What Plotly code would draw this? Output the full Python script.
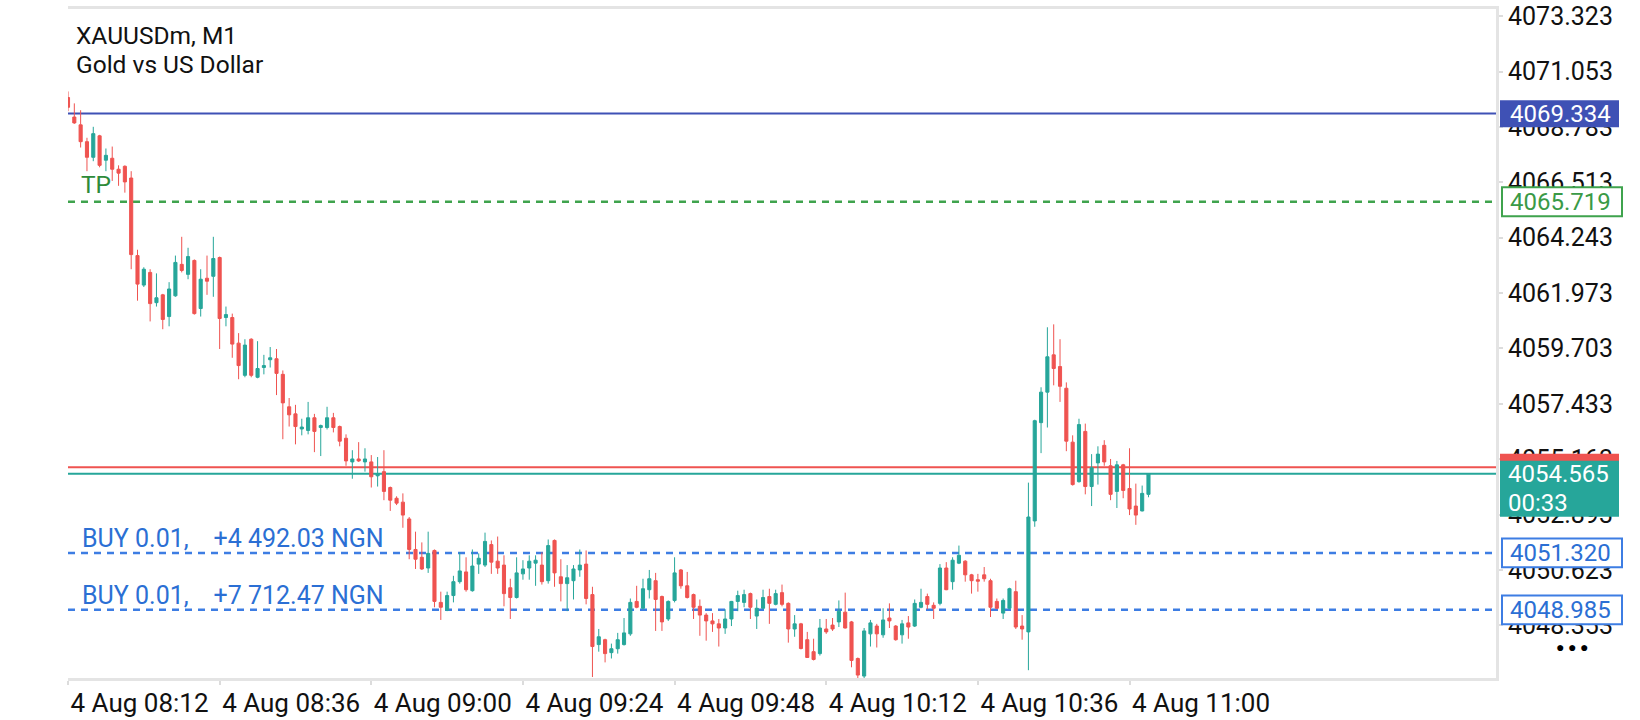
import pandas as pd
import plotly.graph_objects as go

# XAUUSDm M1 - candles desde 4 Aug 08:12
inicio = "2025-08-04 08:12"

abertura = [
    4069.99, 4069.19, 4068.87, 4068.18, 4067.54, 4068.42, 4067.42, 4067.50, 4067.05, 4067.17,
    4066.69, 4063.51, 4062.30, 4062.82, 4061.58, 4061.90, 4061.01, 4061.86, 4063.15, 4062.74,
    4063.31, 4061.34, 4062.58, 4062.66, 4063.43, 4060.97, 4060.97, 4059.92, 4058.60, 4060.08,
    4058.52, 4058.92, 4059.24, 4059.28, 4058.64, 4057.31, 4057.02, 4056.40, 4056.34, 4056.86,
    4056.46, 4056.46, 4056.86, 4056.50, 4056.02, 4055.05, 4055.17, 4055.05, 4055.05, 4054.48,
    4054.65, 4054.00, 4053.56, 4053.40, 4052.71, 4051.46, 4051.14, 4050.70, 4051.42, 4049.29,
    4048.97, 4049.57, 4050.14, 4050.54, 4049.77, 4050.86, 4050.82, 4051.66, 4050.98, 4050.82,
    4049.89, 4049.49, 4050.46, 4050.70, 4050.90, 4050.82, 4050.18, 4051.83, 4050.34, 4050.06,
    4050.18, 4050.62, 4050.86, 4049.61, 4047.56, 4047.76, 4047.23, 4047.39, 4047.56, 4048.00,
    4049.33, 4049.05, 4049.81, 4050.18, 4049.53, 4048.61, 4049.37, 4050.62, 4049.97, 4049.61,
    4049.13, 4048.77, 4048.53, 4048.41, 4048.24, 4048.61, 4049.33, 4049.29, 4049.65, 4048.73,
    4049.05, 4049.53, 4049.21, 4049.69, 4049.25, 4048.20, 4048.41, 4047.76, 4047.27, 4047.19,
    4048.20, 4048.36, 4048.49, 4048.89, 4048.49, 4046.99, 4046.27, 4048.00, 4048.32, 4047.96,
    4048.65, 4048.32, 4047.96, 4048.45, 4048.32, 4049.09, 4049.53, 4049.17, 4049.25, 4050.70,
    4050.14, 4050.90, 4050.98, 4050.42, 4050.22, 4050.42, 4050.18, 4049.33, 4048.85, 4049.05,
    4049.73, 4048.32, 4048.08, 4052.63, 4056.66, 4057.91, 4059.44, 4058.96, 4058.07, 4055.86,
    4054.24, 4056.30, 4054.04, 4055.01, 4055.73, 4054.89, 4053.84, 4054.93, 4053.96, 4053.24,
    4053.04, 4053.72,
]
maxima = [
    4070.24, 4069.75, 4069.47, 4068.34, 4068.79, 4068.46, 4067.90, 4067.98, 4067.21, 4067.21,
    4066.97, 4063.75, 4063.03, 4062.95, 4062.78, 4061.94, 4062.42, 4063.51, 4064.28, 4063.83,
    4063.35, 4062.95, 4063.51, 4064.28, 4063.47, 4061.42, 4061.13, 4060.33, 4060.08, 4060.12,
    4060.00, 4059.44, 4059.76, 4059.68, 4058.80, 4057.67, 4057.39, 4056.82, 4057.51, 4057.02,
    4056.58, 4057.31, 4057.06, 4056.54, 4056.18, 4055.53, 4055.86, 4055.61, 4055.33, 4055.25,
    4055.53, 4054.04, 4053.64, 4053.76, 4052.79, 4052.19, 4051.75, 4052.19, 4051.46, 4049.73,
    4049.73, 4050.38, 4051.34, 4051.14, 4051.46, 4051.30, 4052.15, 4051.83, 4051.99, 4051.22,
    4050.26, 4051.14, 4051.02, 4051.22, 4051.22, 4051.34, 4051.87, 4051.87, 4051.06, 4050.82,
    4050.82, 4051.46, 4051.42, 4049.93, 4048.20, 4047.80, 4047.60, 4048.04, 4048.65, 4049.45,
    4049.97, 4050.26, 4050.62, 4050.50, 4049.57, 4049.37, 4051.14, 4050.66, 4050.54, 4049.65,
    4049.41, 4048.85, 4048.85, 4048.61, 4049.01, 4049.35, 4049.77, 4049.81, 4049.69, 4049.41,
    4049.81, 4049.85, 4049.81, 4050.02, 4049.29, 4048.77, 4048.45, 4048.08, 4047.80, 4048.61,
    4048.61, 4048.65, 4049.37, 4049.69, 4048.53, 4047.03, 4048.24, 4048.57, 4048.41, 4049.05,
    4049.25, 4048.36, 4048.57, 4048.73, 4049.41, 4049.85, 4049.65, 4049.29, 4050.86, 4050.94,
    4051.14, 4051.62, 4051.02, 4050.46, 4050.46, 4050.74, 4050.26, 4049.45, 4049.45, 4049.89,
    4050.18, 4048.77, 4054.20, 4056.78, 4058.11, 4060.57, 4060.69, 4060.08, 4058.31, 4056.14,
    4056.82, 4056.62, 4055.37, 4055.69, 4055.94, 4055.17, 4055.09, 4054.97, 4055.61, 4054.16,
    4054.08, 4054.565,
]
minima = [
    4069.43, 4068.91, 4067.94, 4066.97, 4067.38, 4067.13, 4066.97, 4066.57, 4066.37, 4066.09,
    4062.95, 4061.66, 4062.22, 4060.81, 4061.42, 4060.49, 4060.61, 4061.82, 4062.82, 4062.54,
    4061.09, 4061.01, 4061.90, 4061.82, 4059.68, 4060.61, 4059.32, 4058.44, 4058.52, 4058.52,
    4058.48, 4058.64, 4058.92, 4057.79, 4055.98, 4056.50, 4055.77, 4056.14, 4056.18, 4055.45,
    4055.29, 4056.38, 4056.26, 4055.69, 4054.89, 4054.36, 4055.05, 4054.65, 4054.00, 4054.04,
    4053.48, 4053.04, 4053.28, 4052.35, 4051.06, 4050.66, 4050.62, 4050.50, 4049.09, 4048.57,
    4048.93, 4049.29, 4050.06, 4049.73, 4049.73, 4050.46, 4050.74, 4050.46, 4050.46, 4049.13,
    4048.61, 4049.45, 4050.22, 4050.22, 4049.97, 4050.02, 4050.06, 4049.93, 4049.33, 4048.93,
    4049.41, 4050.34, 4049.21, 4046.23, 4047.27, 4046.83, 4046.99, 4047.19, 4047.52, 4047.92,
    4049.05, 4049.01, 4049.45, 4048.12, 4048.12, 4048.53, 4049.29, 4049.85, 4049.45, 4048.61,
    4047.92, 4047.72, 4048.08, 4047.48, 4048.00, 4048.32, 4048.93, 4049.09, 4048.61, 4048.20,
    4049.01, 4048.41, 4049.17, 4049.13, 4047.64, 4047.88, 4047.36, 4047.01, 4046.91, 4047.11,
    4048.00, 4048.12, 4048.28, 4048.22, 4046.63, 4046.15, 4046.15, 4047.48, 4047.44, 4047.84,
    4048.24, 4047.72, 4047.60, 4047.80, 4048.28, 4049.05, 4049.01, 4048.61, 4049.17, 4049.79,
    4049.81, 4050.86, 4050.14, 4049.65, 4049.73, 4050.14, 4048.69, 4049.01, 4048.61, 4049.01,
    4048.20, 4047.76, 4046.51, 4052.39, 4055.41, 4056.46, 4058.19, 4057.51, 4055.49, 4054.08,
    4054.20, 4053.72, 4053.24, 4054.12, 4054.89, 4053.48, 4053.16, 4053.56, 4052.87, 4052.47,
    4053.02, 4053.60,
]
fechamento = [
    4069.59, 4068.95, 4068.18, 4067.54, 4068.51, 4067.21, 4067.62, 4067.05, 4066.89, 4066.53,
    4063.55, 4062.34, 4062.95, 4061.54, 4061.78, 4060.89, 4062.14, 4063.23, 4062.90, 4063.47,
    4061.13, 4062.54, 4062.46, 4063.39, 4060.93, 4061.09, 4059.88, 4059.00, 4059.84, 4058.60,
    4058.88, 4059.00, 4059.32, 4058.68, 4057.47, 4056.98, 4056.50, 4056.48, 4056.86, 4056.30,
    4056.54, 4056.86, 4056.46, 4055.90, 4055.09, 4055.17, 4055.09, 4055.17, 4054.44, 4054.56,
    4053.84, 4053.48, 4053.36, 4052.87, 4051.46, 4051.06, 4050.66, 4051.30, 4049.33, 4049.09,
    4049.57, 4050.14, 4050.58, 4049.81, 4050.78, 4051.10, 4051.79, 4050.94, 4050.70, 4049.65,
    4049.49, 4050.50, 4050.66, 4050.98, 4051.02, 4050.14, 4051.62, 4050.50, 4050.06, 4050.30,
    4050.66, 4050.82, 4049.45, 4047.48, 4047.88, 4047.19, 4047.39, 4047.76, 4048.04, 4049.29,
    4049.09, 4049.85, 4050.26, 4049.41, 4048.49, 4049.33, 4050.50, 4049.97, 4049.49, 4049.09,
    4048.77, 4048.53, 4048.41, 4048.24, 4048.61, 4049.33, 4049.57, 4049.61, 4049.09, 4049.05,
    4049.49, 4049.25, 4049.65, 4049.21, 4048.20, 4048.41, 4047.40, 4047.03, 4046.95, 4048.24,
    4048.08, 4048.20, 4048.93, 4048.24, 4046.91, 4046.31, 4048.12, 4048.45, 4048.00, 4048.57,
    4048.53, 4047.76, 4048.41, 4048.28, 4049.25, 4049.29, 4049.21, 4049.05, 4050.70, 4049.81,
    4051.02, 4051.22, 4050.42, 4050.18, 4050.16, 4050.26, 4049.09, 4049.05, 4049.37, 4049.85,
    4048.28, 4048.20, 4052.79, 4056.74, 4057.91, 4059.36, 4058.88, 4058.15, 4055.90, 4054.12,
    4056.58, 4054.04, 4054.81, 4055.37, 4055.05, 4053.72, 4054.93, 4053.88, 4053.12, 4052.87,
    4053.76, 4054.565,
]
tempos = pd.date_range(inicio, periods=len(abertura), freq="1min")

# niveis no grafico
nivel_azul = 4069.334
nivel_tp = 4065.719
preco_ask = 4054.833
preco_bid = 4054.565
contagem = "00:33"
ordens = [4051.320, 4048.985]
ordens_txt = ["BUY 0.01," + "\u00a0" * 4 + "+4 492.03 NGN",
              "BUY 0.01," + "\u00a0" * 4 + "+7 712.47 NGN"]
marcas_tempo = pd.date_range(inicio, "2025-08-04 11:00", freq="24min")

verde = "#26a69a"
vermelho = "#ef5350"
azul = "#3d7de3"
verde_tp = "#3fa34d"

fig = go.Figure(go.Candlestick(
    x=tempos, open=abertura, high=maxima, low=minima, close=fechamento,
    increasing=dict(line=dict(color=verde, width=1), fillcolor=verde),
    decreasing=dict(line=dict(color=vermelho, width=1), fillcolor=vermelho),
    whiskerwidth=0, hoverinfo="skip",
))


def linha(y, cor, largura, traco="solid"):
    fig.add_shape(type="line", xref="paper", x0=0, x1=1, yref="y", y0=y, y1=y,
                  line=dict(color=cor, width=largura, dash=traco), layer="below")


def caixa(y, fundo, borda, cima, baixo, x0=4, x1=123):
    fig.add_shape(type="rect", xref="paper", xsizemode="pixel", xanchor=1, x0=x0, x1=x1,
                  yref="y", ysizemode="pixel", yanchor=y, y0=-baixo, y1=cima,
                  fillcolor=fundo,
                  line=dict(color=borda or fundo, width=2 if borda else 0),
                  layer="above")


def texto_eixo(y, txt, cor):
    fig.add_annotation(x=1, xref="paper", xanchor="center", xshift=64,
                       y=y, yref="y", yanchor="middle", text=txt, showarrow=False,
                       font=dict(color=cor, size=24))


# linhas horizontais
linha(nivel_azul, "#3f51b5", 2)
linha(nivel_tp, verde_tp, 2.5, "7px,6px")
linha(preco_ask, vermelho, 2)
linha(preco_bid, verde, 2)
for p in ordens:
    linha(p, azul, 2.5, "7px,6px")

# etiquetas de preco no eixo
caixa(nivel_azul, "#3f51b5", None, 13.3, 13.7)
texto_eixo(nivel_azul, f"{nivel_azul:.3f}", "white")
caixa(nivel_tp, "white", verde_tp, 14.5, 14.5, 6, 126)
texto_eixo(nivel_tp, f"{nivel_tp:.3f}", "#3a9a46")
for p in ordens:
    caixa(p, "white", azul, 14.3, 14.3, 6, 126)
    texto_eixo(p, f"{p:.3f}", "#2b6fd4")
caixa(preco_ask, vermelho, None, 13.5, 13.5)
caixa(preco_bid, verde, None, 13, 43)
fig.add_annotation(x=1, xref="paper", xanchor="left", xshift=10, y=preco_bid, yref="y",
                   yanchor="middle", text=f"{preco_bid:.3f}", showarrow=False,
                   font=dict(color="white", size=24))
fig.add_annotation(x=1, xref="paper", xanchor="left", xshift=10, y=preco_bid, yref="y",
                   yanchor="middle", yshift=-29, text=contagem, showarrow=False,
                   font=dict(color="white", size=24))

# textos dentro do grafico
fig.add_annotation(x=0, xref="paper", xanchor="left", xshift=6, y=1, yref="paper",
                   yanchor="middle", yshift=-26, text="XAUUSDm, M1", showarrow=False,
                   font=dict(size=24.5, color="#111"))
fig.add_annotation(x=0, xref="paper", xanchor="left", xshift=6, y=1, yref="paper",
                   yanchor="middle", yshift=-55, text="Gold vs US Dollar", showarrow=False,
                   font=dict(size=24.5, color="#111"))
fig.add_annotation(x=0, xref="paper", xanchor="left", xshift=11, y=nivel_tp, yref="y",
                   yanchor="middle", yshift=17, text="TP", showarrow=False,
                   font=dict(size=24.5, color="#2e8b3a"))
for p, t in zip(ordens, ordens_txt):
    fig.add_annotation(x=0, xref="paper", xanchor="left", xshift=12, y=p, yref="y",
                       yanchor="middle", yshift=14, text=t, showarrow=False,
                       font=dict(size=25, color="#2b6fd4"))
fig.add_annotation(x=1, xref="paper", xanchor="center", xshift=76, y=0, yref="paper",
                   yanchor="middle", yshift=31, text="\u25cf\u2005\u25cf\u2005\u25cf",
                   showarrow=False, font=dict(size=14, color="black"))

fim = pd.Timestamp(inicio) + pd.Timedelta(minutes=226)
fig.update_layout(
    width=1640, height=720,
    margin=dict(l=68, r=144, t=2, b=37),
    paper_bgcolor="white", plot_bgcolor="white",
    showlegend=False,
    font=dict(family="Roboto", size=24, color="#111"),
    xaxis=dict(
        type="date", range=[pd.Timestamp(inicio), fim],
        rangeslider=dict(visible=False), showgrid=False, zeroline=False,
        tickvals=marcas_tempo, tickformat="%-d %b %H:%M",
        ticks="outside", ticklen=4, tickwidth=2, tickcolor="#dcdcdc",
        ticklabelposition="outside right",
        showline=True, linecolor="#e4e4e4", linewidth=3, mirror=True,
        tickfont=dict(size=26, color="#111"),
    ),
    yaxis=dict(
        side="right", range=[4046.19, 4073.62],
        tickmode="linear", tick0=4048.353, dtick=2.27, tickformat=".3f",
        ticks="outside", ticklen=4, tickwidth=2, tickcolor="#dcdcdc",
        ticklabeloverflow="allow",
        showgrid=False, zeroline=False,
        showline=True, linecolor="#e4e4e4", linewidth=3,
        tickfont=dict(size=25, color="#111"),
    ),
)

fig.write_html(
    "out.html",
    config={"displayModeBar": False},
    post_script="document.body.style.margin='0';document.body.style.overflow='hidden';",
)
